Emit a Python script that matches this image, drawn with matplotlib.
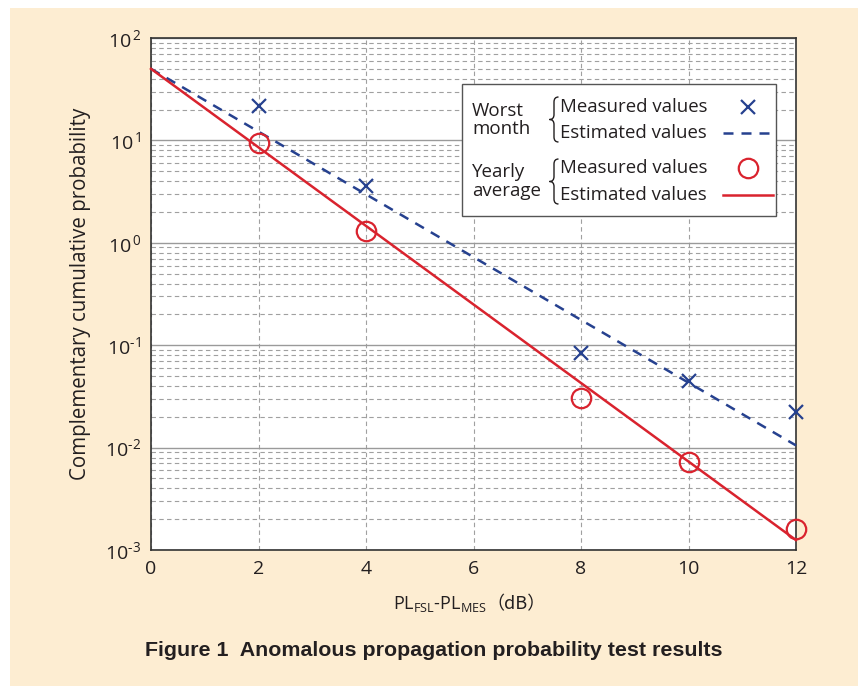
import numpy as np
import matplotlib
matplotlib.use("Agg")
import matplotlib.pyplot as plt
from matplotlib.patches import Rectangle
from matplotlib.path import Path
from matplotlib.patches import PathPatch
from matplotlib.lines import Line2D
from matplotlib.offsetbox import TextArea, HPacker, AnchoredOffsetbox

plt.rcParams['font.family'] = ['Open Sans', 'Noto Sans CJK JP', 'DejaVu Sans']
plt.rcParams['mathtext.fontset'] = 'custom'
plt.rcParams['mathtext.rm'] = 'Open Sans'
plt.rcParams['mathtext.it'] = 'Open Sans'

# === Data ===
x_meas = [2, 4, 8, 10, 12]
worst_meas = [21.7, 3.6, 0.084, 0.045, 0.0223]
yearly_meas = [9.4, 1.3, 0.0305, 0.0072, 0.0016]
x_est = [0, 12]
worst_est = [50, 0.0105]
yearly_est = [50, 0.00125]
x_ticks = [0, 2, 4, 6, 8, 10, 12]
y_exps = [-3, -2, -1, 0, 1, 2]

BLUE = '#26418f'
RED = '#d9232e'
CREAM = '#fdedd2'
TXT = '#231f20'

fig = plt.figure(figsize=(8.58, 6.86), dpi=100)
fig.patch.set_facecolor('white')
fig.patches.append(Rectangle((10 / 858, 0), 1, 1 - 8 / 686, transform=fig.transFigure,
                             facecolor=CREAM, edgecolor='none', zorder=-10))

ax = fig.add_axes([151 / 858, 1 - 550 / 686, 645 / 858, 512 / 686])
ax.set_facecolor('white')
ax.set_yscale('log')
ax.set_xlim(0, 12)
ax.set_ylim(1e-3, 1e2)

# grid
ax.grid(True, which='major', axis='y', color='#9a9a9a', lw=1.0, ls='-')
ax.grid(True, which='minor', axis='y', color='#a0a0a0', lw=0.8, ls=(0, (4, 3)))
ax.grid(True, which='major', axis='x', color='#a0a0a0', lw=0.8, ls=(0, (4, 3)))
ax.set_axisbelow(True)

ax.set_xticks(x_ticks)
ax.set_xticklabels([str(t) for t in x_ticks])
ax.set_yticks([10.0 ** e for e in y_exps])
# hyphen (U+2010) instead of a math minus, as in the reference
ax.set_yticklabels(['10$^{\\,%d}$' % e if e >= 0 else '10$^{\u2010%d}$' % -e for e in y_exps])
ax.tick_params(which='both', length=0, labelsize=14, colors=TXT)
ax.tick_params(axis='x', pad=7)
ax.tick_params(axis='y', pad=7)
for s in ax.spines.values():
    s.set_color('#333333')
    s.set_linewidth(1.2)

# lines and markers
ax.plot(x_est, worst_est, color=BLUE, lw=1.8, ls=(0, (4, 3.2)), clip_on=False, zorder=3)
ax.plot(x_est, yearly_est, color=RED, lw=1.8, clip_on=False, zorder=3)
ax.plot(x_meas, worst_meas, ls='none', marker='x', ms=10, mew=1.6, color=BLUE, clip_on=False, zorder=4)
ax.plot(x_meas, yearly_meas, ls='none', marker='o', ms=14, mew=1.6, mfc='none', mec=RED, clip_on=False, zorder=4)

ax.set_ylabel('Complementary cumulative probability', fontsize=14.8, color=TXT, labelpad=10)

# x label with subscripts and full-width parentheses
parts = [
    TextArea('PL$_{\\mathrm{FSL}}$-PL$_{\\mathrm{MES}}$', textprops=dict(fontsize=13, color=TXT)),
    TextArea('（dB）', textprops=dict(fontsize=13, color=TXT, family=['Noto Sans CJK JP'])),
]
box = HPacker(children=parts, align='baseline', pad=0, sep=0)
ab = AnchoredOffsetbox(loc='center', child=box, frameon=False,
                       bbox_to_anchor=(469 / 858, 1 - 604 / 686), bbox_transform=fig.transFigure)
fig.add_artist(ab)

fig.text(434 / 858, 1 - 651 / 686, 'Figure 1  Anomalous propagation probability test results',
         family='Liberation Sans', weight='bold', fontsize=15.4, ha='center', va='center', color=TXT)

# === custom legend box ===
def px(x, y):
    return (x - 151) / 645, (550 - y) / 512

lx0, ly0 = px(462, 216)
lx1, ly1 = px(776, 84)
ax.add_patch(Rectangle((lx0, ly0), lx1 - lx0, ly1 - ly0, transform=ax.transAxes,
                       facecolor='white', edgecolor='#555555', lw=1.0, zorder=6))


def brace(xc, ytop, ybot):
    # thin curly brace, given in reference pixel coords
    w = 4.5
    ym = (ytop + ybot) / 2
    pts = [(xc + w, ytop), (xc, ytop), (xc, ytop + 5), (xc, ym - 5), (xc, ym), (xc - w, ym),
           (xc, ym), (xc, ym + 5), (xc, ybot - 5), (xc, ybot), (xc + w, ybot)]
    codes = [Path.MOVETO, Path.CURVE3, Path.CURVE3, Path.LINETO, Path.CURVE3, Path.CURVE3,
             Path.CURVE3, Path.CURVE3, Path.LINETO, Path.CURVE3, Path.CURVE3]
    verts = [px(a, b) for a, b in pts]
    ax.add_patch(PathPatch(Path(verts, codes), transform=ax.transAxes, fill=False,
                           edgecolor=TXT, lw=1.0, zorder=7))


groups = [('Worst\nmonth', 107, 133, 97, 142),
          ('Yearly\naverage', 168, 195, 159, 204)]
for name, ym, ye, bt, bb in groups:
    tx, ty = px(472, (ym + ye) / 2)
    ax.text(tx, ty, name, transform=ax.transAxes, fontsize=13.5, color=TXT,
            ha='left', va='center', linespacing=1.05, zorder=7)
    brace(554, bt, bb)
    for lab, yy in (('Measured values', ym), ('Estimated values', ye)):
        a, b = px(560, yy)
        ax.text(a, b, lab, transform=ax.transAxes, fontsize=13.4, color=TXT,
                ha='left', va='center', zorder=7)

mx, my = px(748, 107)
ax.plot([mx], [my], transform=ax.transAxes, marker='x', ms=10, mew=1.6, color=BLUE, zorder=8, clip_on=False)
mx, my = px(748, 168)
ax.plot([mx], [my], transform=ax.transAxes, marker='o', ms=14, mew=1.6, mfc='none', mec=RED, zorder=8, clip_on=False)
a0, b0 = px(723, 133)
a1, _ = px(773, 133)
ax.add_line(Line2D([a0, a1], [b0, b0], transform=ax.transAxes, color=BLUE, lw=1.8, ls=(0, (4, 3.2)), zorder=8))
a0, b0 = px(723, 195)
ax.add_line(Line2D([a0, a1], [b0, b0], transform=ax.transAxes, color=RED, lw=1.8, zorder=8))

fig.savefig('out.png', dpi=100, facecolor=fig.get_facecolor())
